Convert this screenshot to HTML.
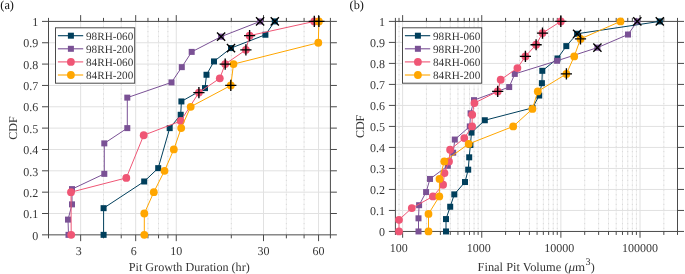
<!DOCTYPE html>
<html><head><meta charset="utf-8"><style>
html,body{margin:0;padding:0;background:#fff;}
svg{display:block;will-change:transform;}
text{text-rendering:geometricPrecision;}
.t{font-family:"Liberation Serif",serif;font-size:12px;fill:#363636;}
.lg{font-family:"Liberation Serif",serif;font-size:11.2px;fill:#363636;}
.ab{font-family:"Liberation Serif",serif;font-size:12.3px;fill:#111;}
</style></head><body>
<svg width="685" height="274" viewBox="0 0 685 274">
<line x1="103.50" y1="21.4" x2="103.50" y2="234.85" stroke="#efefef" stroke-width="1"/>
<line x1="103.50" y1="21.4" x2="103.50" y2="234.85" stroke="#dadada" stroke-width="1" stroke-dasharray="1.2 3.6"/>
<line x1="121.22" y1="21.4" x2="121.22" y2="234.85" stroke="#efefef" stroke-width="1"/>
<line x1="121.22" y1="21.4" x2="121.22" y2="234.85" stroke="#dadada" stroke-width="1" stroke-dasharray="1.2 3.6"/>
<line x1="147.94" y1="21.4" x2="147.94" y2="234.85" stroke="#efefef" stroke-width="1"/>
<line x1="147.94" y1="21.4" x2="147.94" y2="234.85" stroke="#dadada" stroke-width="1" stroke-dasharray="1.2 3.6"/>
<line x1="158.54" y1="21.4" x2="158.54" y2="234.85" stroke="#efefef" stroke-width="1"/>
<line x1="158.54" y1="21.4" x2="158.54" y2="234.85" stroke="#dadada" stroke-width="1" stroke-dasharray="1.2 3.6"/>
<line x1="167.90" y1="21.4" x2="167.90" y2="234.85" stroke="#efefef" stroke-width="1"/>
<line x1="167.90" y1="21.4" x2="167.90" y2="234.85" stroke="#dadada" stroke-width="1" stroke-dasharray="1.2 3.6"/>
<line x1="231.31" y1="21.4" x2="231.31" y2="234.85" stroke="#efefef" stroke-width="1"/>
<line x1="231.31" y1="21.4" x2="231.31" y2="234.85" stroke="#dadada" stroke-width="1" stroke-dasharray="1.2 3.6"/>
<line x1="286.36" y1="21.4" x2="286.36" y2="234.85" stroke="#efefef" stroke-width="1"/>
<line x1="286.36" y1="21.4" x2="286.36" y2="234.85" stroke="#dadada" stroke-width="1" stroke-dasharray="1.2 3.6"/>
<line x1="304.08" y1="21.4" x2="304.08" y2="234.85" stroke="#efefef" stroke-width="1"/>
<line x1="304.08" y1="21.4" x2="304.08" y2="234.85" stroke="#dadada" stroke-width="1" stroke-dasharray="1.2 3.6"/>
<line x1="80.65" y1="21.4" x2="80.65" y2="234.85" stroke="#e1e1e1" stroke-width="1"/>
<line x1="135.70" y1="21.4" x2="135.70" y2="234.85" stroke="#e1e1e1" stroke-width="1"/>
<line x1="176.26" y1="21.4" x2="176.26" y2="234.85" stroke="#e1e1e1" stroke-width="1"/>
<line x1="263.51" y1="21.4" x2="263.51" y2="234.85" stroke="#e1e1e1" stroke-width="1"/>
<line x1="318.56" y1="21.4" x2="318.56" y2="234.85" stroke="#e1e1e1" stroke-width="1"/>
<line x1="48.5" y1="213.50" x2="330.4" y2="213.50" stroke="#e1e1e1" stroke-width="1"/>
<line x1="48.5" y1="192.16" x2="330.4" y2="192.16" stroke="#e1e1e1" stroke-width="1"/>
<line x1="48.5" y1="170.81" x2="330.4" y2="170.81" stroke="#e1e1e1" stroke-width="1"/>
<line x1="48.5" y1="149.47" x2="330.4" y2="149.47" stroke="#e1e1e1" stroke-width="1"/>
<line x1="48.5" y1="128.12" x2="330.4" y2="128.12" stroke="#e1e1e1" stroke-width="1"/>
<line x1="48.5" y1="106.78" x2="330.4" y2="106.78" stroke="#e1e1e1" stroke-width="1"/>
<line x1="48.5" y1="85.44" x2="330.4" y2="85.44" stroke="#e1e1e1" stroke-width="1"/>
<line x1="48.5" y1="64.09" x2="330.4" y2="64.09" stroke="#e1e1e1" stroke-width="1"/>
<line x1="48.5" y1="42.75" x2="330.4" y2="42.75" stroke="#e1e1e1" stroke-width="1"/>
<rect x="48.5" y="21.4" width="281.90" height="213.45" fill="none" stroke="#4a4a4a" stroke-width="1"/>
<text x="38.2" y="239.55" text-anchor="end" class="t">0</text>
<text x="38.2" y="218.20" text-anchor="end" class="t">0.1</text>
<text x="38.2" y="196.86" text-anchor="end" class="t">0.2</text>
<text x="38.2" y="175.51" text-anchor="end" class="t">0.3</text>
<text x="38.2" y="154.17" text-anchor="end" class="t">0.4</text>
<text x="38.2" y="132.82" text-anchor="end" class="t">0.5</text>
<text x="38.2" y="111.48" text-anchor="end" class="t">0.6</text>
<text x="38.2" y="90.14" text-anchor="end" class="t">0.7</text>
<text x="38.2" y="68.79" text-anchor="end" class="t">0.8</text>
<text x="38.2" y="47.45" text-anchor="end" class="t">0.9</text>
<text x="38.2" y="26.10" text-anchor="end" class="t">1</text>
<path d="M42.0,234.85H48.5M330.4,234.85H336.9M42.0,213.50H48.5M330.4,213.50H336.9M42.0,192.16H48.5M330.4,192.16H336.9M42.0,170.81H48.5M330.4,170.81H336.9M42.0,149.47H48.5M330.4,149.47H336.9M42.0,128.12H48.5M330.4,128.12H336.9M42.0,106.78H48.5M330.4,106.78H336.9M42.0,85.44H48.5M330.4,85.44H336.9M42.0,64.09H48.5M330.4,64.09H336.9M42.0,42.75H48.5M330.4,42.75H336.9M42.0,21.40H48.5M330.4,21.40H336.9M80.65,234.85V241.15M80.65,21.4V15.099999999999998M135.70,234.85V241.15M135.70,21.4V15.099999999999998M176.26,234.85V241.15M176.26,21.4V15.099999999999998M263.51,234.85V241.15M263.51,21.4V15.099999999999998M318.56,234.85V241.15M318.56,21.4V15.099999999999998M48.50,234.85V238.35M48.50,21.4V17.9M103.50,234.85V238.35M103.50,21.4V17.9M121.22,234.85V238.35M121.22,21.4V17.9M147.94,234.85V238.35M147.94,21.4V17.9M158.54,234.85V238.35M158.54,21.4V17.9M167.90,234.85V238.35M167.90,21.4V17.9M231.31,234.85V238.35M231.31,21.4V17.9M286.36,234.85V238.35M286.36,21.4V17.9M304.08,234.85V238.35M304.08,21.4V17.9M330.40,234.85V238.35M330.40,21.4V17.9" stroke="#4a4a4a" stroke-width="1" fill="none"/>
<text x="78.70" y="255.30" text-anchor="middle" class="t">3</text>
<text x="133.85" y="255.30" text-anchor="middle" class="t">6</text>
<text x="176.35" y="255.30" text-anchor="middle" class="t">10</text>
<text x="263.60" y="255.30" text-anchor="middle" class="t">30</text>
<text x="318.55" y="255.30" text-anchor="middle" class="t">60</text>
<polyline points="103.60,234.85 103.60,208.17 144.20,181.49 158.20,168.15 169.70,128.12 180.70,114.78 181.40,101.44 205.00,88.10 206.50,74.76 214.00,61.42 231.00,48.08 265.40,34.74 274.80,21.40" fill="none" stroke="#003f5c" stroke-width="1.0" stroke-linejoin="round"/>
<rect x="100.60" y="231.85" width="6" height="6" fill="#003f5c"/>
<rect x="100.60" y="205.17" width="6" height="6" fill="#003f5c"/>
<rect x="141.20" y="178.49" width="6" height="6" fill="#003f5c"/>
<rect x="155.20" y="165.15" width="6" height="6" fill="#003f5c"/>
<rect x="166.70" y="125.12" width="6" height="6" fill="#003f5c"/>
<rect x="177.70" y="111.78" width="6" height="6" fill="#003f5c"/>
<rect x="178.40" y="98.44" width="6" height="6" fill="#003f5c"/>
<rect x="202.00" y="85.10" width="6" height="6" fill="#003f5c"/>
<rect x="203.50" y="71.76" width="6" height="6" fill="#003f5c"/>
<rect x="211.00" y="58.42" width="6" height="6" fill="#003f5c"/>
<rect x="228.00" y="45.08" width="6" height="6" fill="#003f5c"/>
<rect x="262.40" y="31.74" width="6" height="6" fill="#003f5c"/>
<rect x="271.80" y="18.40" width="6" height="6" fill="#003f5c"/>
<polyline points="68.50,234.85 68.00,219.60 72.00,204.36 72.00,189.11 104.30,173.86 104.30,143.37 127.30,128.12 127.30,97.63 171.50,82.39 181.80,67.14 191.70,51.89 221.10,36.65 260.10,21.40" fill="none" stroke="#7a5195" stroke-width="1.0" stroke-linejoin="round"/>
<rect x="65.50" y="231.85" width="6" height="6" fill="#7a5195"/>
<rect x="65.00" y="216.60" width="6" height="6" fill="#7a5195"/>
<rect x="69.00" y="201.36" width="6" height="6" fill="#7a5195"/>
<rect x="69.00" y="186.11" width="6" height="6" fill="#7a5195"/>
<rect x="101.30" y="170.86" width="6" height="6" fill="#7a5195"/>
<rect x="101.30" y="140.37" width="6" height="6" fill="#7a5195"/>
<rect x="124.30" y="125.12" width="6" height="6" fill="#7a5195"/>
<rect x="124.30" y="94.63" width="6" height="6" fill="#7a5195"/>
<rect x="168.50" y="79.39" width="6" height="6" fill="#7a5195"/>
<rect x="178.80" y="64.14" width="6" height="6" fill="#7a5195"/>
<rect x="188.70" y="48.89" width="6" height="6" fill="#7a5195"/>
<rect x="218.10" y="33.65" width="6" height="6" fill="#7a5195"/>
<rect x="257.10" y="18.40" width="6" height="6" fill="#7a5195"/>
<polyline points="71.20,234.85 71.00,192.16 126.30,177.93 143.70,135.24 180.70,121.01 198.90,92.55 219.80,78.32 225.20,64.09 245.90,49.86 249.60,35.63 314.30,21.40" fill="none" stroke="#ef5675" stroke-width="1.0" stroke-linejoin="round"/>
<circle cx="71.20" cy="234.85" r="3.9" fill="#ef5675"/>
<circle cx="71.00" cy="192.16" r="3.9" fill="#ef5675"/>
<circle cx="126.30" cy="177.93" r="3.9" fill="#ef5675"/>
<circle cx="143.70" cy="135.24" r="3.9" fill="#ef5675"/>
<circle cx="180.70" cy="121.01" r="3.9" fill="#ef5675"/>
<circle cx="198.90" cy="92.55" r="3.9" fill="#ef5675"/>
<circle cx="219.80" cy="78.32" r="3.9" fill="#ef5675"/>
<circle cx="225.20" cy="64.09" r="3.9" fill="#ef5675"/>
<circle cx="245.90" cy="49.86" r="3.9" fill="#ef5675"/>
<circle cx="249.60" cy="35.63" r="3.9" fill="#ef5675"/>
<circle cx="314.30" cy="21.40" r="3.9" fill="#ef5675"/>
<polyline points="144.30,234.85 144.30,213.50 153.80,192.16 164.50,170.81 173.80,149.47 181.20,128.12 190.70,106.78 230.80,85.44 233.50,64.09 318.30,42.75 318.90,21.40" fill="none" stroke="#ffa600" stroke-width="1.0" stroke-linejoin="round"/>
<circle cx="144.30" cy="234.85" r="3.9" fill="#ffa600"/>
<circle cx="144.30" cy="213.50" r="3.9" fill="#ffa600"/>
<circle cx="153.80" cy="192.16" r="3.9" fill="#ffa600"/>
<circle cx="164.50" cy="170.81" r="3.9" fill="#ffa600"/>
<circle cx="173.80" cy="149.47" r="3.9" fill="#ffa600"/>
<circle cx="181.20" cy="128.12" r="3.9" fill="#ffa600"/>
<circle cx="190.70" cy="106.78" r="3.9" fill="#ffa600"/>
<circle cx="230.80" cy="85.44" r="3.9" fill="#ffa600"/>
<circle cx="233.50" cy="64.09" r="3.9" fill="#ffa600"/>
<circle cx="318.30" cy="42.75" r="3.9" fill="#ffa600"/>
<circle cx="318.90" cy="21.40" r="3.9" fill="#ffa600"/>
<path d="M226.90,43.98L235.10,52.18M226.90,52.18L235.10,43.98" stroke="#000" stroke-width="1.35"/>
<path d="M270.70,17.30L278.90,25.50M270.70,25.50L278.90,17.30" stroke="#000" stroke-width="1.35"/>
<path d="M217.00,32.55L225.20,40.75M217.00,40.75L225.20,32.55" stroke="#000" stroke-width="1.35"/>
<path d="M256.00,17.30L264.20,25.50M256.00,25.50L264.20,17.30" stroke="#000" stroke-width="1.35"/>
<path d="M193.30,92.55H204.50M198.90,86.95V98.15" stroke="#000" stroke-width="1.35"/>
<path d="M219.60,64.09H230.80M225.20,58.49V69.69" stroke="#000" stroke-width="1.35"/>
<path d="M240.30,49.86H251.50M245.90,44.26V55.46" stroke="#000" stroke-width="1.35"/>
<path d="M244.00,35.63H255.20M249.60,30.03V41.23" stroke="#000" stroke-width="1.35"/>
<path d="M308.70,21.40H319.90M314.30,15.80V27.00" stroke="#000" stroke-width="1.35"/>
<path d="M225.20,85.44H236.40M230.80,79.84V91.03" stroke="#000" stroke-width="1.35"/>
<path d="M313.30,21.40H324.50M318.90,15.80V27.00" stroke="#000" stroke-width="1.35"/>
<rect x="55.5" y="27.8" width="79.2" height="55.4" fill="#fff" stroke="#4a4a4a" stroke-width="1"/>
<line x1="57.9" y1="35.70" x2="83.2" y2="35.70" stroke="#003f5c" stroke-width="1.1"/>
<rect x="67.9" y="32.70" width="6" height="6" fill="#003f5c"/>
<text x="86.0" y="39.70" class="lg">98RH-060</text>
<line x1="57.9" y1="48.80" x2="83.2" y2="48.80" stroke="#7a5195" stroke-width="1.1"/>
<rect x="67.9" y="45.80" width="6" height="6" fill="#7a5195"/>
<text x="86.0" y="52.80" class="lg">98RH-200</text>
<line x1="57.9" y1="61.90" x2="83.2" y2="61.90" stroke="#ef5675" stroke-width="1.1"/>
<circle cx="70.9" cy="61.90" r="3.9" fill="#ef5675"/>
<text x="86.0" y="65.90" class="lg">84RH-060</text>
<line x1="57.9" y1="75.00" x2="83.2" y2="75.00" stroke="#ffa600" stroke-width="1.1"/>
<circle cx="70.9" cy="75.00" r="3.9" fill="#ffa600"/>
<text x="86.0" y="79.00" class="lg">84RH-200</text>
<line x1="399.01" y1="21.4" x2="399.01" y2="231.45" stroke="#efefef" stroke-width="1"/>
<line x1="399.01" y1="21.4" x2="399.01" y2="231.45" stroke="#dadada" stroke-width="1" stroke-dasharray="1.2 3.6"/>
<line x1="426.45" y1="21.4" x2="426.45" y2="231.45" stroke="#efefef" stroke-width="1"/>
<line x1="426.45" y1="21.4" x2="426.45" y2="231.45" stroke="#dadada" stroke-width="1" stroke-dasharray="1.2 3.6"/>
<line x1="440.38" y1="21.4" x2="440.38" y2="231.45" stroke="#efefef" stroke-width="1"/>
<line x1="440.38" y1="21.4" x2="440.38" y2="231.45" stroke="#dadada" stroke-width="1" stroke-dasharray="1.2 3.6"/>
<line x1="450.27" y1="21.4" x2="450.27" y2="231.45" stroke="#efefef" stroke-width="1"/>
<line x1="450.27" y1="21.4" x2="450.27" y2="231.45" stroke="#dadada" stroke-width="1" stroke-dasharray="1.2 3.6"/>
<line x1="457.94" y1="21.4" x2="457.94" y2="231.45" stroke="#efefef" stroke-width="1"/>
<line x1="457.94" y1="21.4" x2="457.94" y2="231.45" stroke="#dadada" stroke-width="1" stroke-dasharray="1.2 3.6"/>
<line x1="464.21" y1="21.4" x2="464.21" y2="231.45" stroke="#efefef" stroke-width="1"/>
<line x1="464.21" y1="21.4" x2="464.21" y2="231.45" stroke="#dadada" stroke-width="1" stroke-dasharray="1.2 3.6"/>
<line x1="469.50" y1="21.4" x2="469.50" y2="231.45" stroke="#efefef" stroke-width="1"/>
<line x1="469.50" y1="21.4" x2="469.50" y2="231.45" stroke="#dadada" stroke-width="1" stroke-dasharray="1.2 3.6"/>
<line x1="474.09" y1="21.4" x2="474.09" y2="231.45" stroke="#efefef" stroke-width="1"/>
<line x1="474.09" y1="21.4" x2="474.09" y2="231.45" stroke="#dadada" stroke-width="1" stroke-dasharray="1.2 3.6"/>
<line x1="478.14" y1="21.4" x2="478.14" y2="231.45" stroke="#efefef" stroke-width="1"/>
<line x1="478.14" y1="21.4" x2="478.14" y2="231.45" stroke="#dadada" stroke-width="1" stroke-dasharray="1.2 3.6"/>
<line x1="505.58" y1="21.4" x2="505.58" y2="231.45" stroke="#efefef" stroke-width="1"/>
<line x1="505.58" y1="21.4" x2="505.58" y2="231.45" stroke="#dadada" stroke-width="1" stroke-dasharray="1.2 3.6"/>
<line x1="519.51" y1="21.4" x2="519.51" y2="231.45" stroke="#efefef" stroke-width="1"/>
<line x1="519.51" y1="21.4" x2="519.51" y2="231.45" stroke="#dadada" stroke-width="1" stroke-dasharray="1.2 3.6"/>
<line x1="529.40" y1="21.4" x2="529.40" y2="231.45" stroke="#efefef" stroke-width="1"/>
<line x1="529.40" y1="21.4" x2="529.40" y2="231.45" stroke="#dadada" stroke-width="1" stroke-dasharray="1.2 3.6"/>
<line x1="537.07" y1="21.4" x2="537.07" y2="231.45" stroke="#efefef" stroke-width="1"/>
<line x1="537.07" y1="21.4" x2="537.07" y2="231.45" stroke="#dadada" stroke-width="1" stroke-dasharray="1.2 3.6"/>
<line x1="543.34" y1="21.4" x2="543.34" y2="231.45" stroke="#efefef" stroke-width="1"/>
<line x1="543.34" y1="21.4" x2="543.34" y2="231.45" stroke="#dadada" stroke-width="1" stroke-dasharray="1.2 3.6"/>
<line x1="548.63" y1="21.4" x2="548.63" y2="231.45" stroke="#efefef" stroke-width="1"/>
<line x1="548.63" y1="21.4" x2="548.63" y2="231.45" stroke="#dadada" stroke-width="1" stroke-dasharray="1.2 3.6"/>
<line x1="553.22" y1="21.4" x2="553.22" y2="231.45" stroke="#efefef" stroke-width="1"/>
<line x1="553.22" y1="21.4" x2="553.22" y2="231.45" stroke="#dadada" stroke-width="1" stroke-dasharray="1.2 3.6"/>
<line x1="557.27" y1="21.4" x2="557.27" y2="231.45" stroke="#efefef" stroke-width="1"/>
<line x1="557.27" y1="21.4" x2="557.27" y2="231.45" stroke="#dadada" stroke-width="1" stroke-dasharray="1.2 3.6"/>
<line x1="584.71" y1="21.4" x2="584.71" y2="231.45" stroke="#efefef" stroke-width="1"/>
<line x1="584.71" y1="21.4" x2="584.71" y2="231.45" stroke="#dadada" stroke-width="1" stroke-dasharray="1.2 3.6"/>
<line x1="598.64" y1="21.4" x2="598.64" y2="231.45" stroke="#efefef" stroke-width="1"/>
<line x1="598.64" y1="21.4" x2="598.64" y2="231.45" stroke="#dadada" stroke-width="1" stroke-dasharray="1.2 3.6"/>
<line x1="608.53" y1="21.4" x2="608.53" y2="231.45" stroke="#efefef" stroke-width="1"/>
<line x1="608.53" y1="21.4" x2="608.53" y2="231.45" stroke="#dadada" stroke-width="1" stroke-dasharray="1.2 3.6"/>
<line x1="616.20" y1="21.4" x2="616.20" y2="231.45" stroke="#efefef" stroke-width="1"/>
<line x1="616.20" y1="21.4" x2="616.20" y2="231.45" stroke="#dadada" stroke-width="1" stroke-dasharray="1.2 3.6"/>
<line x1="622.47" y1="21.4" x2="622.47" y2="231.45" stroke="#efefef" stroke-width="1"/>
<line x1="622.47" y1="21.4" x2="622.47" y2="231.45" stroke="#dadada" stroke-width="1" stroke-dasharray="1.2 3.6"/>
<line x1="627.76" y1="21.4" x2="627.76" y2="231.45" stroke="#efefef" stroke-width="1"/>
<line x1="627.76" y1="21.4" x2="627.76" y2="231.45" stroke="#dadada" stroke-width="1" stroke-dasharray="1.2 3.6"/>
<line x1="632.35" y1="21.4" x2="632.35" y2="231.45" stroke="#efefef" stroke-width="1"/>
<line x1="632.35" y1="21.4" x2="632.35" y2="231.45" stroke="#dadada" stroke-width="1" stroke-dasharray="1.2 3.6"/>
<line x1="636.40" y1="21.4" x2="636.40" y2="231.45" stroke="#efefef" stroke-width="1"/>
<line x1="636.40" y1="21.4" x2="636.40" y2="231.45" stroke="#dadada" stroke-width="1" stroke-dasharray="1.2 3.6"/>
<line x1="663.84" y1="21.4" x2="663.84" y2="231.45" stroke="#efefef" stroke-width="1"/>
<line x1="663.84" y1="21.4" x2="663.84" y2="231.45" stroke="#dadada" stroke-width="1" stroke-dasharray="1.2 3.6"/>
<line x1="402.63" y1="21.4" x2="402.63" y2="231.45" stroke="#e1e1e1" stroke-width="1"/>
<line x1="481.76" y1="21.4" x2="481.76" y2="231.45" stroke="#e1e1e1" stroke-width="1"/>
<line x1="560.89" y1="21.4" x2="560.89" y2="231.45" stroke="#e1e1e1" stroke-width="1"/>
<line x1="640.02" y1="21.4" x2="640.02" y2="231.45" stroke="#e1e1e1" stroke-width="1"/>
<line x1="395.4" y1="210.44" x2="677.5" y2="210.44" stroke="#e1e1e1" stroke-width="1"/>
<line x1="395.4" y1="189.44" x2="677.5" y2="189.44" stroke="#e1e1e1" stroke-width="1"/>
<line x1="395.4" y1="168.44" x2="677.5" y2="168.44" stroke="#e1e1e1" stroke-width="1"/>
<line x1="395.4" y1="147.43" x2="677.5" y2="147.43" stroke="#e1e1e1" stroke-width="1"/>
<line x1="395.4" y1="126.42" x2="677.5" y2="126.42" stroke="#e1e1e1" stroke-width="1"/>
<line x1="395.4" y1="105.42" x2="677.5" y2="105.42" stroke="#e1e1e1" stroke-width="1"/>
<line x1="395.4" y1="84.42" x2="677.5" y2="84.42" stroke="#e1e1e1" stroke-width="1"/>
<line x1="395.4" y1="63.41" x2="677.5" y2="63.41" stroke="#e1e1e1" stroke-width="1"/>
<line x1="395.4" y1="42.41" x2="677.5" y2="42.41" stroke="#e1e1e1" stroke-width="1"/>
<rect x="395.4" y="21.4" width="282.10" height="210.05" fill="none" stroke="#4a4a4a" stroke-width="1"/>
<text x="385.09999999999997" y="236.15" text-anchor="end" class="t">0</text>
<text x="385.09999999999997" y="215.14" text-anchor="end" class="t">0.1</text>
<text x="385.09999999999997" y="194.14" text-anchor="end" class="t">0.2</text>
<text x="385.09999999999997" y="173.13" text-anchor="end" class="t">0.3</text>
<text x="385.09999999999997" y="152.13" text-anchor="end" class="t">0.4</text>
<text x="385.09999999999997" y="131.12" text-anchor="end" class="t">0.5</text>
<text x="385.09999999999997" y="110.12" text-anchor="end" class="t">0.6</text>
<text x="385.09999999999997" y="89.12" text-anchor="end" class="t">0.7</text>
<text x="385.09999999999997" y="68.11" text-anchor="end" class="t">0.8</text>
<text x="385.09999999999997" y="47.11" text-anchor="end" class="t">0.9</text>
<text x="385.09999999999997" y="26.10" text-anchor="end" class="t">1</text>
<path d="M388.9,231.45H395.4M677.5,231.45H684.0M388.9,210.44H395.4M677.5,210.44H684.0M388.9,189.44H395.4M677.5,189.44H684.0M388.9,168.44H395.4M677.5,168.44H684.0M388.9,147.43H395.4M677.5,147.43H684.0M388.9,126.42H395.4M677.5,126.42H684.0M388.9,105.42H395.4M677.5,105.42H684.0M388.9,84.42H395.4M677.5,84.42H684.0M388.9,63.41H395.4M677.5,63.41H684.0M388.9,42.41H395.4M677.5,42.41H684.0M388.9,21.40H395.4M677.5,21.40H684.0M402.63,231.45V237.75M402.63,21.4V15.099999999999998M481.76,231.45V237.75M481.76,21.4V15.099999999999998M560.89,231.45V237.75M560.89,21.4V15.099999999999998M640.02,231.45V237.75M640.02,21.4V15.099999999999998M395.40,231.45V234.95M395.40,21.4V17.9M399.01,231.45V234.95M399.01,21.4V17.9M426.45,231.45V234.95M426.45,21.4V17.9M440.38,231.45V234.95M440.38,21.4V17.9M450.27,231.45V234.95M450.27,21.4V17.9M457.94,231.45V234.95M457.94,21.4V17.9M464.21,231.45V234.95M464.21,21.4V17.9M469.50,231.45V234.95M469.50,21.4V17.9M474.09,231.45V234.95M474.09,21.4V17.9M478.14,231.45V234.95M478.14,21.4V17.9M505.58,231.45V234.95M505.58,21.4V17.9M519.51,231.45V234.95M519.51,21.4V17.9M529.40,231.45V234.95M529.40,21.4V17.9M537.07,231.45V234.95M537.07,21.4V17.9M543.34,231.45V234.95M543.34,21.4V17.9M548.63,231.45V234.95M548.63,21.4V17.9M553.22,231.45V234.95M553.22,21.4V17.9M557.27,231.45V234.95M557.27,21.4V17.9M584.71,231.45V234.95M584.71,21.4V17.9M598.64,231.45V234.95M598.64,21.4V17.9M608.53,231.45V234.95M608.53,21.4V17.9M616.20,231.45V234.95M616.20,21.4V17.9M622.47,231.45V234.95M622.47,21.4V17.9M627.76,231.45V234.95M627.76,21.4V17.9M632.35,231.45V234.95M632.35,21.4V17.9M636.40,231.45V234.95M636.40,21.4V17.9M663.84,231.45V234.95M663.84,21.4V17.9M677.50,231.45V234.95M677.50,21.4V17.9" stroke="#4a4a4a" stroke-width="1" fill="none"/>
<text x="398.75" y="252.00" text-anchor="middle" class="t">100</text>
<text x="478.85" y="252.00" text-anchor="middle" class="t">1000</text>
<text x="559.35" y="252.00" text-anchor="middle" class="t">10000</text>
<text x="639.95" y="252.00" text-anchor="middle" class="t">100000</text>
<polyline points="446.00,231.45 446.00,219.09 450.20,206.74 454.30,194.38 465.00,182.03 468.20,169.67 469.20,157.31 470.40,144.96 471.50,132.60 484.80,120.25 532.50,107.89 539.20,95.54 541.90,83.18 542.30,70.82 557.50,58.47 566.30,46.11 577.10,33.76 659.80,21.40" fill="none" stroke="#003f5c" stroke-width="1.0" stroke-linejoin="round"/>
<rect x="443.00" y="228.45" width="6" height="6" fill="#003f5c"/>
<rect x="443.00" y="216.09" width="6" height="6" fill="#003f5c"/>
<rect x="447.20" y="203.74" width="6" height="6" fill="#003f5c"/>
<rect x="451.30" y="191.38" width="6" height="6" fill="#003f5c"/>
<rect x="462.00" y="179.03" width="6" height="6" fill="#003f5c"/>
<rect x="465.20" y="166.67" width="6" height="6" fill="#003f5c"/>
<rect x="466.20" y="154.31" width="6" height="6" fill="#003f5c"/>
<rect x="467.40" y="141.96" width="6" height="6" fill="#003f5c"/>
<rect x="468.50" y="129.60" width="6" height="6" fill="#003f5c"/>
<rect x="481.80" y="117.25" width="6" height="6" fill="#003f5c"/>
<rect x="529.50" y="104.89" width="6" height="6" fill="#003f5c"/>
<rect x="536.20" y="92.54" width="6" height="6" fill="#003f5c"/>
<rect x="538.90" y="80.18" width="6" height="6" fill="#003f5c"/>
<rect x="539.30" y="67.82" width="6" height="6" fill="#003f5c"/>
<rect x="554.50" y="55.47" width="6" height="6" fill="#003f5c"/>
<rect x="563.30" y="43.11" width="6" height="6" fill="#003f5c"/>
<rect x="574.10" y="30.76" width="6" height="6" fill="#003f5c"/>
<rect x="656.80" y="18.40" width="6" height="6" fill="#003f5c"/>
<polyline points="418.50,231.45 418.50,218.32 419.10,205.19 426.10,192.07 430.00,178.94 447.80,165.81 453.20,152.68 454.80,139.55 469.80,126.42 470.60,113.30 474.00,100.17 509.20,87.04 514.80,73.91 557.10,60.78 597.40,47.66 628.00,34.53 637.30,21.40" fill="none" stroke="#7a5195" stroke-width="1.0" stroke-linejoin="round"/>
<rect x="415.50" y="228.45" width="6" height="6" fill="#7a5195"/>
<rect x="415.50" y="215.32" width="6" height="6" fill="#7a5195"/>
<rect x="416.10" y="202.19" width="6" height="6" fill="#7a5195"/>
<rect x="423.10" y="189.07" width="6" height="6" fill="#7a5195"/>
<rect x="427.00" y="175.94" width="6" height="6" fill="#7a5195"/>
<rect x="444.80" y="162.81" width="6" height="6" fill="#7a5195"/>
<rect x="450.20" y="149.68" width="6" height="6" fill="#7a5195"/>
<rect x="451.80" y="136.55" width="6" height="6" fill="#7a5195"/>
<rect x="466.80" y="123.42" width="6" height="6" fill="#7a5195"/>
<rect x="467.60" y="110.30" width="6" height="6" fill="#7a5195"/>
<rect x="471.00" y="97.17" width="6" height="6" fill="#7a5195"/>
<rect x="506.20" y="84.04" width="6" height="6" fill="#7a5195"/>
<rect x="511.80" y="70.91" width="6" height="6" fill="#7a5195"/>
<rect x="554.10" y="57.78" width="6" height="6" fill="#7a5195"/>
<rect x="594.40" y="44.66" width="6" height="6" fill="#7a5195"/>
<rect x="625.00" y="31.53" width="6" height="6" fill="#7a5195"/>
<rect x="634.30" y="18.40" width="6" height="6" fill="#7a5195"/>
<polyline points="399.00,231.45 399.00,219.78 411.80,208.11 432.90,196.44 443.10,184.77 444.50,173.10 449.00,161.43 450.10,149.76 464.30,138.09 472.10,126.42 472.20,114.76 474.40,103.09 497.70,91.42 500.70,79.75 517.40,68.08 525.40,56.41 536.10,44.74 542.50,33.07 560.80,21.40" fill="none" stroke="#ef5675" stroke-width="1.0" stroke-linejoin="round"/>
<circle cx="399.00" cy="231.45" r="3.9" fill="#ef5675"/>
<circle cx="399.00" cy="219.78" r="3.9" fill="#ef5675"/>
<circle cx="411.80" cy="208.11" r="3.9" fill="#ef5675"/>
<circle cx="432.90" cy="196.44" r="3.9" fill="#ef5675"/>
<circle cx="443.10" cy="184.77" r="3.9" fill="#ef5675"/>
<circle cx="444.50" cy="173.10" r="3.9" fill="#ef5675"/>
<circle cx="449.00" cy="161.43" r="3.9" fill="#ef5675"/>
<circle cx="450.10" cy="149.76" r="3.9" fill="#ef5675"/>
<circle cx="464.30" cy="138.09" r="3.9" fill="#ef5675"/>
<circle cx="472.10" cy="126.42" r="3.9" fill="#ef5675"/>
<circle cx="472.20" cy="114.76" r="3.9" fill="#ef5675"/>
<circle cx="474.40" cy="103.09" r="3.9" fill="#ef5675"/>
<circle cx="497.70" cy="91.42" r="3.9" fill="#ef5675"/>
<circle cx="500.70" cy="79.75" r="3.9" fill="#ef5675"/>
<circle cx="517.40" cy="68.08" r="3.9" fill="#ef5675"/>
<circle cx="525.40" cy="56.41" r="3.9" fill="#ef5675"/>
<circle cx="536.10" cy="44.74" r="3.9" fill="#ef5675"/>
<circle cx="542.50" cy="33.07" r="3.9" fill="#ef5675"/>
<circle cx="560.80" cy="21.40" r="3.9" fill="#ef5675"/>
<polyline points="428.50,231.45 428.50,213.95 439.30,196.44 439.50,178.94 444.30,161.43 468.70,143.93 513.20,126.42 532.40,108.92 537.80,91.42 566.40,73.91 574.20,56.41 580.50,38.90 620.50,21.40" fill="none" stroke="#ffa600" stroke-width="1.0" stroke-linejoin="round"/>
<circle cx="428.50" cy="231.45" r="3.9" fill="#ffa600"/>
<circle cx="428.50" cy="213.95" r="3.9" fill="#ffa600"/>
<circle cx="439.30" cy="196.44" r="3.9" fill="#ffa600"/>
<circle cx="439.50" cy="178.94" r="3.9" fill="#ffa600"/>
<circle cx="444.30" cy="161.43" r="3.9" fill="#ffa600"/>
<circle cx="468.70" cy="143.93" r="3.9" fill="#ffa600"/>
<circle cx="513.20" cy="126.42" r="3.9" fill="#ffa600"/>
<circle cx="532.40" cy="108.92" r="3.9" fill="#ffa600"/>
<circle cx="537.80" cy="91.42" r="3.9" fill="#ffa600"/>
<circle cx="566.40" cy="73.91" r="3.9" fill="#ffa600"/>
<circle cx="574.20" cy="56.41" r="3.9" fill="#ffa600"/>
<circle cx="580.50" cy="38.90" r="3.9" fill="#ffa600"/>
<circle cx="620.50" cy="21.40" r="3.9" fill="#ffa600"/>
<path d="M573.00,29.66L581.20,37.86M573.00,37.86L581.20,29.66" stroke="#000" stroke-width="1.35"/>
<path d="M655.70,17.30L663.90,25.50M655.70,25.50L663.90,17.30" stroke="#000" stroke-width="1.35"/>
<path d="M593.30,43.56L601.50,51.76M593.30,51.76L601.50,43.56" stroke="#000" stroke-width="1.35"/>
<path d="M633.20,17.30L641.40,25.50M633.20,25.50L641.40,17.30" stroke="#000" stroke-width="1.35"/>
<path d="M492.10,91.42H503.30M497.70,85.82V97.02" stroke="#000" stroke-width="1.35"/>
<path d="M519.80,56.41H531.00M525.40,50.81V62.01" stroke="#000" stroke-width="1.35"/>
<path d="M530.50,44.74H541.70M536.10,39.14V50.34" stroke="#000" stroke-width="1.35"/>
<path d="M536.90,33.07H548.10M542.50,27.47V38.67" stroke="#000" stroke-width="1.35"/>
<path d="M555.20,21.40H566.40M560.80,15.80V27.00" stroke="#000" stroke-width="1.35"/>
<path d="M560.80,73.91H572.00M566.40,68.31V79.51" stroke="#000" stroke-width="1.35"/>
<path d="M574.90,38.90H586.10M580.50,33.30V44.50" stroke="#000" stroke-width="1.35"/>
<rect x="402.5" y="27.8" width="79.2" height="55.4" fill="#fff" stroke="#4a4a4a" stroke-width="1"/>
<line x1="404.9" y1="35.70" x2="430.2" y2="35.70" stroke="#003f5c" stroke-width="1.1"/>
<rect x="414.9" y="32.70" width="6" height="6" fill="#003f5c"/>
<text x="433.0" y="39.70" class="lg">98RH-060</text>
<line x1="404.9" y1="48.80" x2="430.2" y2="48.80" stroke="#7a5195" stroke-width="1.1"/>
<rect x="414.9" y="45.80" width="6" height="6" fill="#7a5195"/>
<text x="433.0" y="52.80" class="lg">98RH-200</text>
<line x1="404.9" y1="61.90" x2="430.2" y2="61.90" stroke="#ef5675" stroke-width="1.1"/>
<circle cx="417.9" cy="61.90" r="3.9" fill="#ef5675"/>
<text x="433.0" y="65.90" class="lg">84RH-060</text>
<line x1="404.9" y1="75.00" x2="430.2" y2="75.00" stroke="#ffa600" stroke-width="1.1"/>
<circle cx="417.9" cy="75.00" r="3.9" fill="#ffa600"/>
<text x="433.0" y="79.00" class="lg">84RH-200</text>
<text x="189.3" y="270.6" text-anchor="middle" class="t" style="font-size:12.13px">Pit Growth Duration (hr)</text>
<text x="477.6" y="270.5" class="t" style="font-size:12.4px">Final Pit Volume</text>
<text x="564.6" y="270.5" class="t">(</text>
<text x="568.4" y="270.5" class="t" font-style="italic" textLength="6.6" lengthAdjust="spacingAndGlyphs">μ</text>
<text x="575.1" y="270.5" class="t" textLength="10.1" lengthAdjust="spacingAndGlyphs">m</text>
<text x="585.5" y="264.9" class="t" style="font-size:10.2px">3</text>
<text x="590.7" y="270.5" class="t">)</text>
<text transform="translate(17.4,128.0) rotate(-90)" text-anchor="middle" class="t">CDF</text>
<text transform="translate(364.2,126.4) rotate(-90)" text-anchor="middle" class="t">CDF</text>
<text x="0.3" y="8.8" class="ab">(a)</text>
<text x="349.6" y="8.8" class="ab">(b)</text>
</svg>
</body></html>
